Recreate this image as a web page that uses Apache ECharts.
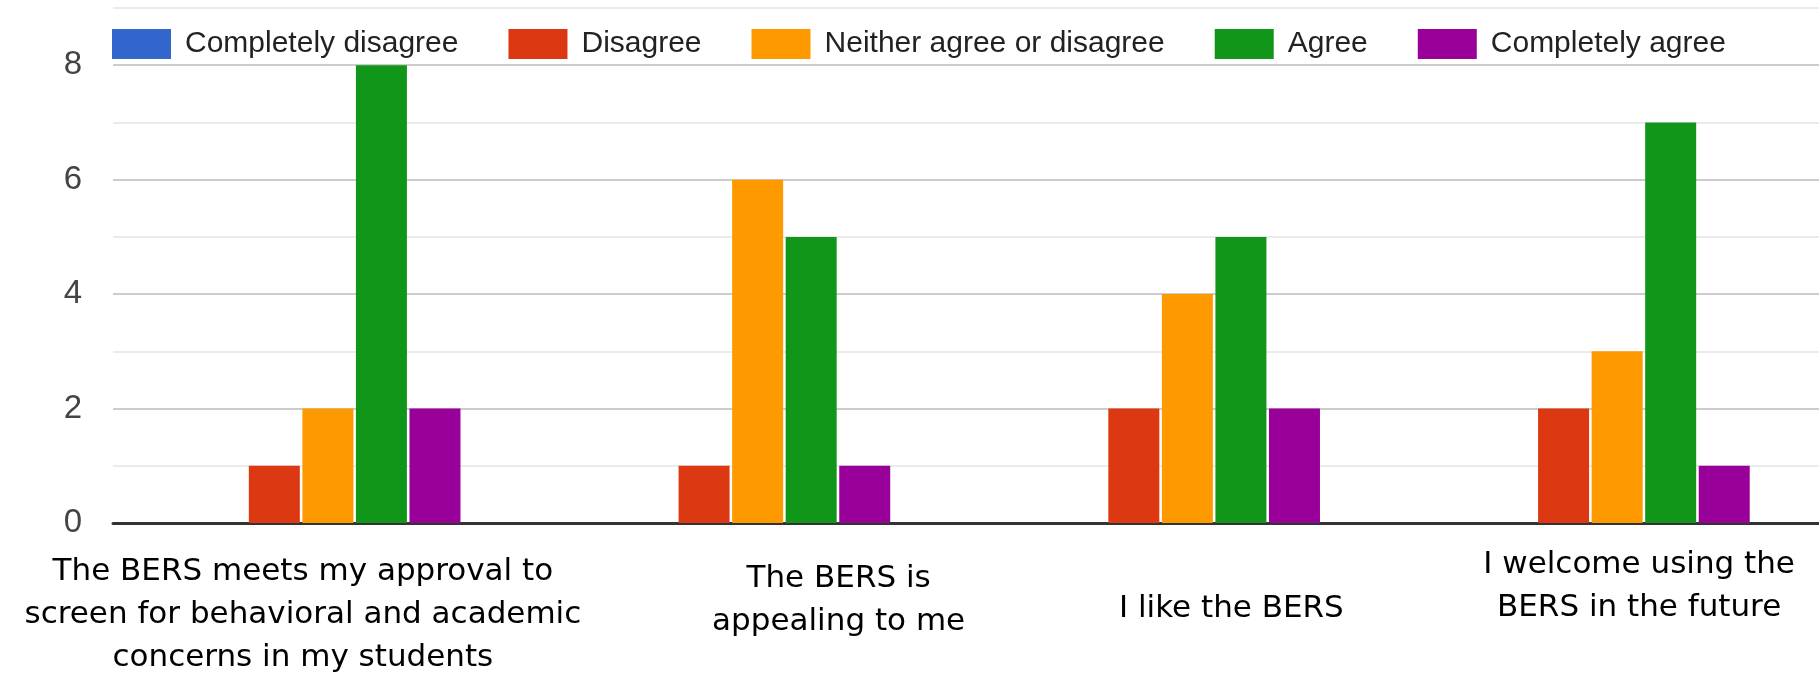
<!DOCTYPE html>
<html>
<head>
<meta charset="utf-8">
<script src="https://cdn.jsdelivr.net/npm/echarts@6/dist/echarts.min.js"></script>
<style>
  html, body { margin: 0; padding: 0; background: #fff; }
  #chart { width: 1819px; height: 675px; }
</style>
</head>
<body>
<div id="chart"></div>
<script>
const CATEGORIES = [
    'The BERS meets my approval to\nscreen for behavioral and academic\nconcerns in my students',
    'The BERS is\nappealing to me',
    'I like the BERS',
    'I welcome using the\nBERS in the future'
]

const SERIES_NAMES = [
    'Completely disagree', 'Disagree', 'Neither agree or disagree', 'Agree', 'Completely agree'
]

const COMPLETELY_DISAGREE = [0, 0, 0, 0]
const DISAGREE = [1, 1, 2, 2]
const NEITHER = [2, 6, 4, 3]
const AGREE = [8, 5, 5, 7]
const COMPLETELY_AGREE = [2, 1, 2, 1]

const COLORS = ['#3366cc', '#dc3912', '#ff9900', '#109618', '#990099']

// label nudges to sit where the source put its text boxes: [top, right, bottom, left]
const LABEL_PADDING = [
    [8, 50, 0, 0],
    [15, 0, 0, 162],
    [45, 0, 0, 88],
    [1, 0, 0, 44]
]

const values = [COMPLETELY_DISAGREE, DISAGREE, NEITHER, AGREE, COMPLETELY_AGREE]

let chart = echarts.init(document.getElementById('chart'))

let series = []
for (let i = 0; i < SERIES_NAMES.length; i++) {
    series.push({
        name: SERIES_NAMES[i],
        type: 'bar',
        barWidth: 51,
        barGap: '5%',
        data: values[i],
        itemStyle: { color: COLORS[i] }
    })
}

chart.setOption({
    animation: false,
    color: COLORS,
    legend: {
        data: SERIES_NAMES,
        left: 112,
        top: 29,
        padding: 0,
        itemWidth: 59,
        itemHeight: 30,
        itemGap: 50,
        icon: 'rect',
        textStyle: {
            fontFamily: 'Liberation Sans',
            fontSize: 30,
            color: '#222',
            padding: [0, 0, 0, 9]
        }
    },
    grid: {
        left: 113,
        width: 1719,   // runs a little past the right edge, as in the source
        top: 8,
        bottom: 152,
        outerBoundsMode: 'none'
    },
    xAxis: {
        type: 'category',
        data: CATEGORIES.map((c, i) => ({
            value: c,
            textStyle: { padding: LABEL_PADDING[i] }
        })),
        axisTick: { show: false },
        axisLine: { lineStyle: { color: '#333', width: 3 } },
        axisLabel: {
            interval: 0,
            margin: 19,
            fontFamily: 'DejaVu Sans',
            fontSize: 31,
            lineHeight: 43,
            color: '#000'
        }
    },
    yAxis: {
        type: 'value',
        min: 0,
        max: 9,
        interval: 1,
        axisLine: { show: false },
        axisTick: { show: false },
        axisLabel: {
            margin: 31,
            fontFamily: 'Liberation Sans',
            fontSize: 33,
            color: '#444',
            formatter: (v) => (v % 2 === 0 ? String(v) : '')
        },
        splitLine: {
            lineStyle: { color: ['#cccccc', '#ebebeb'], width: 2 }
        }
    },
    series: series
})
</script>
</body>
</html>
